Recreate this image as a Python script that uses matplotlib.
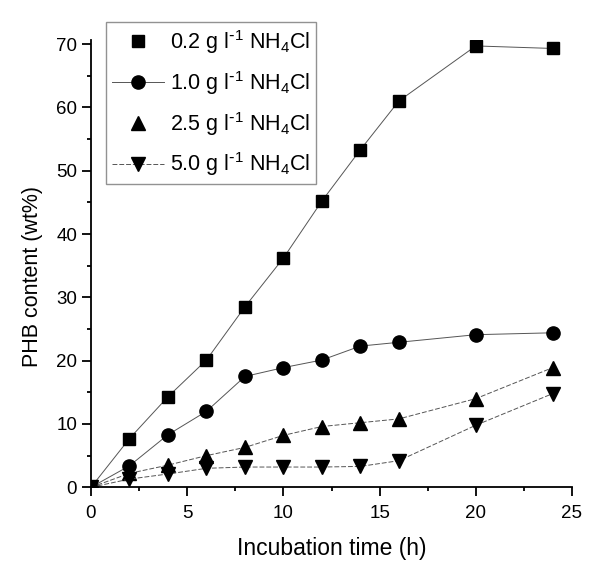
import matplotlib
matplotlib.use('Agg')
import matplotlib.pyplot as plt
from matplotlib.ticker import MultipleLocator

plt.rcParams['font.family'] = ['Liberation Sans', 'DejaVu Sans']
plt.rcParams['mathtext.default'] = 'regular'

# incubation time (h)
time_h = [0, 2, 4, 6, 8, 10, 12, 14, 16, 20, 24]

# PHB content (wt%) for each NH4Cl concentration
phb_02 = [0, 7.7, 14.3, 20.1, 28.5, 36.2, 45.2, 53.3, 61.0, 69.7, 69.3]
phb_10 = [0, 3.4, 8.3, 12.0, 17.5, 18.9, 20.1, 22.3, 22.9, 24.1, 24.4]
phb_25 = [0, 2.2, 3.5, 5.0, 6.3, 8.2, 9.6, 10.2, 10.8, 14.0, 18.9]
phb_50 = [0, 1.3, 2.1, 3.0, 3.2, 3.2, 3.2, 3.3, 4.2, 9.8, 14.8]

labels = [r'0.2 g l$^{\text{-}1}$ NH$_4$Cl',
          r'1.0 g l$^{\text{-}1}$ NH$_4$Cl',
          r'2.5 g l$^{\text{-}1}$ NH$_4$Cl',
          r'5.0 g l$^{\text{-}1}$ NH$_4$Cl']

fig = plt.figure(figsize=(6, 5.72), dpi=100)
ax = fig.add_axes([91 / 600, 84.7 / 572, 481 / 600, 447.7 / 572])

line_col = '#555555'
ax.plot(time_h, phb_02, color=line_col, lw=0.7, ls='-', marker='s', ms=8.5,
        mfc='black', mec='black', label=labels[0])
ax.plot(time_h, phb_10, color=line_col, lw=0.7, ls='-', marker='o', ms=9.5,
        mfc='black', mec='black', label=labels[1])
ax.plot(time_h, phb_25, color=line_col, lw=0.7, ls=(0, (5, 2)), marker='^', ms=10,
        mfc='black', mec='black', label=labels[2])
ax.plot(time_h, phb_50, color=line_col, lw=0.7, ls=(0, (5, 2)), marker='v', ms=10,
        mfc='black', mec='black', label=labels[3])

ax.set_xlim(0, 25)
ax.set_ylim(0, 70.7)
ax.xaxis.set_major_locator(MultipleLocator(5))
ax.xaxis.set_minor_locator(MultipleLocator(2.5))
ax.yaxis.set_major_locator(MultipleLocator(10))
ax.yaxis.set_minor_locator(MultipleLocator(5))

ax.spines['top'].set_visible(False)
ax.spines['right'].set_visible(False)
for s in ['left', 'bottom']:
    ax.spines[s].set_linewidth(1.3)
ax.tick_params(which='major', direction='out', length=6.5, width=1.3, labelsize=13.5)
ax.tick_params(axis='x', which='major', pad=6)
ax.tick_params(which='minor', direction='out', length=3.2, width=1.3)

ax.set_xlabel('Incubation time (h)', fontsize=16.5, labelpad=11)
ax.set_ylabel('PHB content (wt%)', fontsize=15.5)
ax.yaxis.set_label_coords(-0.10, 0.47)

leg = ax.legend(loc='upper left', bbox_to_anchor=(106 / 600, 1 - 22 / 572),
                bbox_transform=fig.transFigure, fontsize=15.5, frameon=True,
                fancybox=False, edgecolor='#777777', handlelength=2.4,
                handletextpad=0.28, labelspacing=0.6, borderpad=0.28,
                borderaxespad=0)
leg.get_frame().set_linewidth(1.0)
# in the reference the legend shows no line for the square and up-triangle series
leg_lines = leg.get_lines()
leg_lines[0].set_linestyle('None')
leg_lines[2].set_linestyle('None')

fig.savefig('out.png', dpi=100)
